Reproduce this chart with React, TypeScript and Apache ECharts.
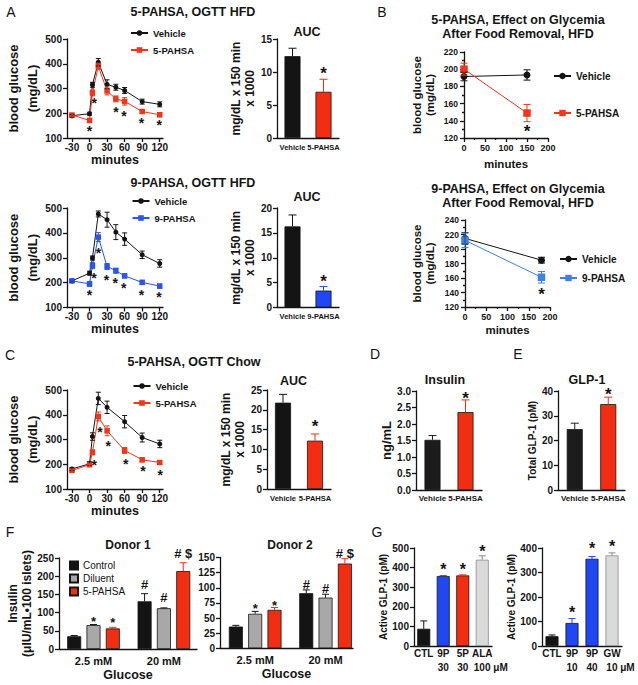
import React, { useEffect, useRef } from "react";
import * as echarts from "echarts";

const FONT = "'Liberation Sans', Arial, Helvetica, sans-serif";
const INK = "#141414";
const RED = "#f2351b";
const RED_BAR = "#f22d12";
const BLUE_LINE = "#2b55ee";
const BLUE_BAR = "#1f47f3";
const BLUE_B = "#3b82e6";
const GREY = "#a8a8a8";
const LIGHT = "#dadada";

// ---------- A (top): 5-PAHSA, OGTT HFD ----------
const minutesA = [-30, 0, 5, 15, 30, 45, 60, 90, 120];
const minuteTicks = [-30, 0, 30, 60, 90, 120];
const a1Vehicle = [190, 198, 315, 406, 317, 305, 292, 247, 236];
const a1VehicleErr = [5, 6, 10, 15, 18, 12, 12, 10, 10];
const a1Pahsa = [193, 171, 282, 390, 290, 258, 248, 207, 194];
const a1PahsaErr = [5, 8, 12, 12, 16, 12, 15, 8, 8];
const a1StarX = [0, 8, 45, 59, 89, 119];
const a1StarY = [142, 254, 220, 202, 175, 166];
const aucCats = ["Vehicle", "5-PAHSA"];
const a1Auc = [12.4, 7.0];
const a1AucErr = [1.2, 1.9];
const a1AucStarY = [10.3];

// ---------- A (bottom): 9-PAHSA, OGTT HFD ----------
const a2Vehicle = [207, 238, 299, 476, 453, 403, 375, 312, 277];
const a2VehicleErr = [5, 8, 8, 12, 30, 30, 25, 15, 15];
const a2Pahsa9 = [207, 195, 268, 383, 265, 248, 227, 201, 186];
const a2Pahsa9Err = [5, 10, 12, 18, 12, 10, 8, 8, 8];
const a2StarX = [0, 7.5, 15.5, 29, 44, 58.6, 88.7, 118.8];
const a2StarY = [162, 232, 332, 225, 211, 191, 162, 154];
const auc9Cats = ["Vehicle", "9-PAHSA"];
const a2Auc = [16.3, 3.4];
const a2AucErr = [2.3, 0.8];
const a2AucStarY = [6.1];

// ---------- B ----------
const b1Minutes = [0, 150];
const b1Vehicle = [191.5, 193.3];
const b1VehicleErr = [5, 6];
const b1Pahsa = [200, 149];
const b1PahsaErr = [7, 10];
const b1StarX = [150];
const b1StarY = [132];
const b2Minutes = [0, 180];
const b2Vehicle = [214.6, 184.6];
const b2VehicleErr = [8, 4];
const b2Pahsa9 = [212, 161];
const b2Pahsa9Err = [10, 8];
const b2StarX = [180];
const b2StarY = [142.5];

// ---------- C: 5-PAHSA, OGTT Chow ----------
const minutesC = [-30, 0, 5, 15, 30, 60, 90, 120];
const cVehicle = [181, 202, 312, 466, 430, 372, 308, 282];
const cVehicleErr = [5, 8, 15, 25, 25, 25, 18, 15];
const cPahsa = [175, 198, 248, 393, 335, 256, 218, 207];
const cPahsaErr = [4, 6, 10, 18, 20, 12, 8, 7];
const cStarX = [8, 17.7, 32, 62, 91.5, 121];
const cStarY = [208, 345, 285, 213, 184, 170];
const cAuc = [21.8, 12.2];
const cAucErr = [2.1, 1.7];
const cAucStarY = [16.7];

// ---------- D / E ----------
const insulin = [1.52, 2.36];
const insulinErr = [0.13, 0.37];
const insulinStarY = [2.9];
const glp1 = [24.6, 34.7];
const glp1Err = [2.4, 2.8];
const glp1StarY = [40];

// ---------- F ----------
const fDose = ["2.5 mM", "20 mM"];
const fGroups = ["Control", "Diluent", "5-PAHSA"];
const donor1Control = [35, 131];
const donor1ControlErr = [2, 21];
const donor1Diluent = [65.7, 112];
const donor1DiluentErr = [1.5, 1];
const donor1Pahsa = [56.6, 214];
const donor1PahsaErr = [3, 23];
const donor1MarkGroup = [1, 2, 0, 1, 2];
const donor1MarkDose = [0, 0, 1, 1, 1];
const donor1MarkText = ["*", "*", "#", "#", "# $"];
const donor1MarkY = [85, 80, 176, 141, 263];
const donor2Control = [35.9, 91];
const donor2ControlErr = [2, 5.5];
const donor2Diluent = [57, 83.8];
const donor2DiluentErr = [4, 5.5];
const donor2Pahsa = [63.5, 140];
const donor2PahsaErr = [4, 8];
const donor2MarkGroup = [1, 2, 0, 1, 2];
const donor2MarkDose = [0, 0, 1, 1, 1];
const donor2MarkText = ["*", "*", "#", "#", "# $"];
const donor2MarkY = [70, 75.5, 105, 99.5, 156];

// ---------- G ----------
const g1Cats = ["CTL", "9P\n30", "5P\n30", "ALA\n100 μM"];
const g1Values = [88, 357, 360, 440];
const g1Err = [40, 2, 3, 20];
const g1StarX = [1, 2, 3];
const g1StarY = [410, 410, 501];
const g2Cats = ["CTL", "9P\n10", "9P\n40", "GW\n10 μM"];
const g2Values = [40, 94, 356, 370];
const g2Err = [5, 18, 9, 10];
const g2StarX = [1, 2, 3];
const g2StarY = [150, 412, 423];

// ---------- helpers ----------
const axisLineStyle = { color: INK, width: 1.3 };

function txt(size: number, weight = "bold", extra: any = {}) {
  return { fontSize: size, fontWeight: weight, color: INK, fontFamily: FONT, ...extra };
}

function valueY(min: number, max: number, interval: number, labelSize: number, name: string, nameSize: number, nameGap: number, lineHeight: number, extra: any = {}) {
  return {
    type: "value", min, max, interval,
    axisLine: { show: true, onZero: false, lineStyle: axisLineStyle },
    axisTick: { show: true, length: 4, lineStyle: axisLineStyle },
    axisLabel: { ...txt(labelSize), margin: 5, ...(extra.axisLabel || {}) },
    splitLine: { show: false },
    name, nameLocation: "middle", nameRotate: 90, nameGap,
    nameTextStyle: txt(nameSize, "bold", { lineHeight }),
    ...(extra.minorTick ? { minorTick: extra.minorTick } : {}),
  };
}

function minutesX(min: number, max: number, nameGap: number) {
  return {
    type: "value", min, max,
    axisLine: { show: true, onZero: false, lineStyle: axisLineStyle },
    axisTick: { show: true, length: 4, lineStyle: axisLineStyle, customValues: minuteTicks },
    axisLabel: { ...txt(10), margin: 4, customValues: minuteTicks },
    splitLine: { show: false },
    name: "minutes", nameLocation: "middle", nameGap,
    nameTextStyle: txt(12.5),
  };
}

function minutesXB(nameGap: number) {
  return {
    type: "value", min: 0, max: 200, interval: 50,
    axisLine: { show: true, onZero: false, lineStyle: axisLineStyle },
    axisTick: { show: true, length: 4, lineStyle: axisLineStyle },
    minorTick: { show: true, splitNumber: 2, length: 2, lineStyle: axisLineStyle },
    axisLabel: { ...txt(9), margin: 5 },
    splitLine: { show: false },
    name: "minutes", nameLocation: "middle", nameGap,
    nameTextStyle: txt(11.5),
  };
}

function catX(data: string[], labelSize: number, margin: number, extraLabel: any = {}) {
  return {
    type: "category", data,
    axisLine: { show: true, onZero: false, lineStyle: axisLineStyle },
    axisTick: { show: false },
    axisLabel: { interval: 0, ...txt(labelSize), margin, ...extraLabel },
    splitLine: { show: false },
  };
}

function groupX(labels: string[], min: number, max: number) {
  const ticks = labels.map((_, i) => i);
  return {
    type: "value", min, max,
    axisLine: { show: true, onZero: false, lineStyle: axisLineStyle },
    axisTick: { show: false },
    axisLabel: { ...txt(11), margin: 6, customValues: ticks, formatter: (v: number) => labels[Math.round(v)] },
    splitLine: { show: false },
    name: "Glucose", nameLocation: "middle", nameGap: 19,
    nameTextStyle: txt(12.5),
  };
}

function addGrid(o: any, left: number, top: number, width: number, height: number, xAx: any, yAx: any) {
  const gi = o.grid.length;
  o.grid.push({ left, top, width, height });
  o.xAxis.push({ ...xAx, gridIndex: gi });
  o.yAxis.push({ ...yAx, gridIndex: gi });
  return gi;
}

function lineSeries(gi: number, name: string, xs: number[], ys: number[], color: string, symbol: string, size: number) {
  return {
    type: "line", name, xAxisIndex: gi, yAxisIndex: gi, silent: true, z: 3,
    data: xs.map((x, i) => [x, ys[i]]),
    symbol, symbolSize: size, showSymbol: true,
    lineStyle: { color, width: 1 }, itemStyle: { color },
  };
}

function errorSeries(gi: number, data: number[][], colors: string | string[], cap: number, both: boolean, offset = 0) {
  return {
    type: "custom", xAxisIndex: gi, yAxisIndex: gi, silent: true, z: 4,
    data, encode: { x: 0, y: [1, 2] },
    renderItem: (params: any, api: any) => {
      const x = api.value(0);
      const a = api.coord([x, api.value(1)]);
      const b = api.coord([x, api.value(2)]);
      const cx = a[0] + offset;
      const color = Array.isArray(colors) ? colors[params.dataIndex] : colors;
      const st = { stroke: color, lineWidth: 1 };
      const children: any[] = [
        { type: "line", shape: { x1: cx, y1: a[1], x2: cx, y2: b[1] }, style: st },
        { type: "line", shape: { x1: cx - cap / 2, y1: b[1], x2: cx + cap / 2, y2: b[1] }, style: st },
      ];
      if (both) children.push({ type: "line", shape: { x1: cx - cap / 2, y1: a[1], x2: cx + cap / 2, y2: a[1] }, style: st });
      return { type: "group", children };
    },
  };
}

function errData(xs: number[], ys: number[], err: number[]) {
  return xs.map((x, i) => [x, ys[i] - err[i], ys[i] + err[i]]);
}
function barErrData(ys: number[], err: number[]) {
  return ys.map((y, i) => [i, y, y + err[i]]);
}

function markSeries(gi: number, xs: number[], ys: number[], texts: string[], size: number, offsets: number[] | number = 0) {
  return {
    type: "custom", xAxisIndex: gi, yAxisIndex: gi, silent: true, z: 5,
    data: xs.map((x, i) => [x, ys[i]]), encode: { x: 0, y: 1 },
    renderItem: (params: any, api: any) => {
      const p = api.coord([api.value(0), api.value(1)]);
      const t = texts[params.dataIndex];
      const off = Array.isArray(offsets) ? offsets[params.dataIndex] : offsets;
      const shift = /^\*+$/.test(t) ? size * 0.23 : 0;
      return {
        type: "text", x: p[0] + off, y: p[1] + shift,
        style: { text: t, fill: INK, font: `bold ${size}px ${FONT}`, align: "center", verticalAlign: "middle" },
      };
    },
  };
}

function barSeries(gi: number, values: number[], colors: string[], borders: string[], width: number) {
  return {
    type: "bar", xAxisIndex: gi, yAxisIndex: gi, silent: true, barWidth: width, z: 2,
    data: values.map((v, i) => ({ value: v, itemStyle: { color: colors[i], borderColor: borders[i], borderWidth: 0.8 } })),
  };
}

function lineLegend(names: string[], left: number, top: number, gap: number, itemHeight: number, size: number) {
  return {
    data: names, left, top, orient: "vertical", itemWidth: 17, itemHeight, itemGap: gap, padding: 0,
    selectedMode: false, formatter: (n: string) => n.split("|")[1], textStyle: txt(size),
  };
}

function title(text: string, cx: number, cy: number, size: number, lh = size) {
  const lines = text.split("\n").length;
  return {
    text, left: cx, top: cy - (lines * lh) / 2, textAlign: "center", padding: 0,
    textStyle: txt(size, "bold", { lineHeight: lh }),
  };
}

function letter(t: string, x: number, y: number) {
  return { type: "text", x, y, style: { text: t, fill: INK, font: `14px ${FONT}`, align: "center", verticalAlign: "middle" } };
}

function glucoseY(nameGap: number) {
  return valueY(100, 500, 100, 10, "blood glucose\n(mg/dL)", 13, nameGap, 18.6);
}

function buildOption() {
  const o: any = { grid: [], xAxis: [], yAxis: [], series: [], legend: [], title: [], graphic: [] };
  const S = (...s: any[]) => o.series.push(...s);

  // ---- A top ----
  let g = addGrid(o, 67, 39, 96, 99, minutesX(-38.5, 125.6, 15), glucoseY(20.5));
  S(
    errorSeries(g, errData(minutesA, a1Vehicle, a1VehicleErr), INK, 5, true),
    errorSeries(g, errData(minutesA, a1Pahsa, a1PahsaErr), RED, 5, true),
    lineSeries(g, "a1|Vehicle", minutesA, a1Vehicle, INK, "circle", 5),
    lineSeries(g, "a1|5-PAHSA", minutesA, a1Pahsa, RED, "rect", 5.5),
    markSeries(g, a1StarX, a1StarY, a1StarX.map(() => "*"), 14),
  );
  o.legend.push(lineLegend(["a1|Vehicle", "a1|5-PAHSA"], 130, 28, 7, 7, 9.5));

  g = addGrid(o, 277, 39, 62, 99, catX(aucCats, 7.5, 5), valueY(0, 15, 5, 10, "mg/dL x 150 min\nx 1000", 12, 20, 14));
  S(
    barSeries(g, a1Auc, [INK, RED_BAR], [INK, INK], 16),
    errorSeries(g, barErrData(a1Auc, a1AucErr), [INK, RED_BAR], 8, false),
    markSeries(g, [1], a1AucStarY, ["*"], 17),
  );

  // ---- A bottom ----
  g = addGrid(o, 67, 208, 96, 99.5, minutesX(-38.5, 125.6, 14), glucoseY(20.5));
  S(
    errorSeries(g, errData(minutesA, a2Vehicle, a2VehicleErr), INK, 5, true),
    errorSeries(g, errData(minutesA, a2Pahsa9, a2Pahsa9Err), BLUE_LINE, 5, true),
    lineSeries(g, "a2|Vehicle", minutesA, a2Vehicle, INK, "circle", 5),
    lineSeries(g, "a2|9-PAHSA", minutesA, a2Pahsa9, BLUE_LINE, "rect", 5.5),
    markSeries(g, a2StarX, a2StarY, a2StarX.map(() => "*"), 14),
  );
  o.legend.push(lineLegend(["a2|Vehicle", "a2|9-PAHSA"], 131.5, 196, 7, 7, 9.5));

  g = addGrid(o, 277, 208, 62, 99.5, catX(auc9Cats, 7.5, 5), valueY(0, 20, 5, 10, "mg/dL x 150 min\nx 1000", 12, 20, 14));
  S(
    barSeries(g, a2Auc, [INK, BLUE_BAR], [INK, INK], 16),
    errorSeries(g, barErrData(a2Auc, a2AucErr), [INK, BLUE_BAR], 8, false),
    markSeries(g, [1], a2AucStarY, ["*"], 17),
  );

  // ---- B top ----
  g = addGrid(o, 464, 52, 84, 86, minutesXB(20), valueY(120, 220, 20, 8.5, "blood glucose\n(mg/dL)", 11.5, 28, 13, {
    minorTick: { show: true, splitNumber: 2, length: 2, lineStyle: axisLineStyle }, axisLabel: { margin: 6 },
  }));
  S(
    errorSeries(g, errData(b1Minutes, b1Vehicle, b1VehicleErr), INK, 7, true),
    errorSeries(g, errData(b1Minutes, b1Pahsa, b1PahsaErr), RED, 7, true),
    lineSeries(g, "b1|Vehicle", b1Minutes, b1Vehicle, INK, "circle", 7),
    lineSeries(g, "b1|5-PAHSA", b1Minutes, b1Pahsa, RED, "rect", 7.5),
    markSeries(g, b1StarX, b1StarY, ["*"], 17),
  );
  o.legend.push(lineLegend(["b1|Vehicle", "b1|5-PAHSA"], 553, 71, 27, 8, 10));

  // ---- B bottom ----
  g = addGrid(o, 465, 220, 85, 87, minutesXB(17), valueY(120, 240, 20, 8.5, "blood glucose\n(mg/dL)", 11.5, 28.5, 13, {
    minorTick: { show: true, splitNumber: 2, length: 2, lineStyle: axisLineStyle }, axisLabel: { margin: 6 },
  }));
  S(
    errorSeries(g, errData(b2Minutes, b2Vehicle, b2VehicleErr), INK, 7, true),
    errorSeries(g, errData(b2Minutes, b2Pahsa9, b2Pahsa9Err), BLUE_B, 7, true),
    lineSeries(g, "b2|Vehicle", b2Minutes, b2Vehicle, INK, "circle", 7),
    lineSeries(g, "b2|9-PAHSA", b2Minutes, b2Pahsa9, BLUE_B, "rect", 7.5),
    markSeries(g, b2StarX, b2StarY, ["*"], 17),
  );
  o.legend.push(lineLegend(["b2|Vehicle", "b2|9-PAHSA"], 559, 254, 9, 8, 10));

  // ---- C ----
  g = addGrid(o, 67, 390, 96, 99, minutesX(-38.5, 125.6, 15), glucoseY(20.5));
  S(
    errorSeries(g, errData(minutesC, cVehicle, cVehicleErr), INK, 5, true),
    errorSeries(g, errData(minutesC, cPahsa, cPahsaErr), RED, 5, true),
    lineSeries(g, "c|Vehicle", minutesC, cVehicle, INK, "circle", 5),
    lineSeries(g, "c|5-PAHSA", minutesC, cPahsa, RED, "rect", 5.5),
    markSeries(g, cStarX, cStarY, cStarX.map(() => "*"), 14),
  );
  o.legend.push(lineLegend(["c|Vehicle", "c|5-PAHSA"], 132.5, 381, 7, 7, 9.5));

  g = addGrid(o, 267, 390, 64, 99, catX(aucCats, 7.5, 5), valueY(0, 25, 5, 10, "mg/dL x 150 min\nx 1000", 12, 17, 14));
  S(
    barSeries(g, cAuc, [INK, RED_BAR], [INK, INK], 16),
    errorSeries(g, barErrData(cAuc, cAucErr), [INK, RED_BAR], 8, false),
    markSeries(g, [1], cAucStarY, ["*"], 17),
  );

  // ---- D ----
  g = addGrid(o, 416, 391, 66, 99, catX(aucCats, 8, 4), valueY(0, 3, 0.5, 10, "ng/mL", 13, 22.5, 13, {
    axisLabel: { formatter: (v: number) => v.toFixed(1) },
  }));
  S(
    barSeries(g, insulin, ["#1c1c1c", RED_BAR], [INK, INK], 16),
    errorSeries(g, barErrData(insulin, insulinErr), ["#1c1c1c", RED_BAR], 8, false),
    markSeries(g, [1], insulinStarY, ["*"], 17),
  );

  // ---- E ----
  g = addGrid(o, 558, 391, 67, 99, catX(aucCats, 8, 4), valueY(0, 40, 10, 10, "Total GLP-1 (pM)", 10, 20, 10));
  S(
    barSeries(g, glp1, ["#1c1c1c", RED_BAR], [INK, INK], 16),
    errorSeries(g, barErrData(glp1, glp1Err), ["#1c1c1c", RED_BAR], 8, false),
    markSeries(g, [1], glp1StarY, ["*"], 17),
  );

  // ---- F ----
  const fColors = [INK, GREY, RED_BAR];
  const bw = 14;
  const step = bw * 1.38;
  const fOffsets = [-step, 0, step];
  const addDonor = (key: string, gIdx: number, vals: number[][], errs: number[][], mg: number[], md: number[], mt: string[], my: number[]) => {
    vals.forEach((v, k) => {
      S({
        type: "bar", name: `${key}|${fGroups[k]}`, xAxisIndex: gIdx, yAxisIndex: gIdx, silent: true, z: 2,
        barWidth: bw, barGap: "38%",
        data: v.map((y, i) => [i, y]),
        itemStyle: { color: fColors[k], borderColor: INK, borderWidth: 0.8 },
      });
    });
    vals.forEach((v, k) => {
      S(errorSeries(gIdx, v.map((y, i) => [i, y, y + errs[k][i]]), fColors[k] === GREY ? INK : fColors[k], 7, false, fOffsets[k]));
    });
    S(markSeries(gIdx, md, my, mt, 13, mg.map((k) => fOffsets[k])));
  };

  g = addGrid(o, 59, 558, 138, 91, groupX(fDose, -0.49, 1.47),
    valueY(0, 250, 50, 10, "Insulin\n(μIU/mL•100 islets)", 12, 20, 13.5));
  addDonor("f1", g, [donor1Control, donor1Diluent, donor1Pahsa], [donor1ControlErr, donor1DiluentErr, donor1PahsaErr],
    donor1MarkGroup, donor1MarkDose, donor1MarkText, donor1MarkY);
  o.legend.push({
    data: fGroups.map((n) => `f1|${n}`), left: 69, top: 560.5, orient: "vertical", icon: "rect",
    itemWidth: 8, itemHeight: 8, itemGap: 3, padding: 0, selectedMode: false,
    formatter: (n: string) => n.split("|")[1], textStyle: txt(10, "normal"),
  });

  g = addGrid(o, 220, 557.5, 133, 90.8, groupX(fDose, -0.5, 1.39),
    valueY(0, 150, 25, 10, "", 12, 20, 13));
  addDonor("f2", g, [donor2Control, donor2Diluent, donor2Pahsa], [donor2ControlErr, donor2DiluentErr, donor2PahsaErr],
    donor2MarkGroup, donor2MarkDose, donor2MarkText, donor2MarkY);

  // ---- G ----
  const gLabel = {
    lineHeight: 13.5,
    formatter: (v: string) => (v.indexOf("μM") >= 0 ? v.replace(/\n(.*)$/, "\n{u|$1}") : v),
    rich: { u: { ...txt(10), lineHeight: 13.5, padding: [0, 0, 0, 17] } },
  };
  g = addGrid(o, 414, 548, 78, 98, catX(g1Cats, 10, 1, gLabel), valueY(0, 500, 100, 10, "Active GLP-1 (pM)", 10, 24, 10));
  S(
    barSeries(g, g1Values, [INK, BLUE_BAR, RED_BAR, LIGHT], [INK, INK, INK, "#8a8a8a"], 13),
    errorSeries(g, barErrData(g1Values, g1Err), [INK, BLUE_BAR, RED_BAR, "#8a8a8a"], 7, false),
    markSeries(g, g1StarX, g1StarY, ["*", "*", "*"], 16),
  );
  g = addGrid(o, 542, 548, 80, 98, catX(g2Cats, 10, 1, gLabel), valueY(0, 400, 100, 10, "Active GLP-1 (pM)", 10, 22, 10));
  S(
    barSeries(g, g2Values, [INK, BLUE_BAR, BLUE_BAR, LIGHT], [INK, INK, INK, "#8a8a8a"], 13),
    errorSeries(g, barErrData(g2Values, g2Err), [INK, BLUE_BAR, BLUE_BAR, "#8a8a8a"], 7, false),
    markSeries(g, g2StarX, g2StarY, ["*", "*", "*"], 16),
  );

  // ---- titles ----
  o.title = [
    title("5-PAHSA, OGTT HFD", 193, 12, 12.5),
    title("AUC", 307, 31.7, 12.5),
    title("9-PAHSA, OGTT HFD", 193, 183, 12.5),
    title("AUC", 307, 196.7, 12.5),
    title("5-PAHSA, Effect on Glycemia\nAfter Food Removal, HFD", 518, 27.2, 12.5, 14.3),
    title("9-PAHSA, Effect on Glycemia\nAfter Food Removal, HFD", 518, 196.2, 12.5, 14.3),
    title("5-PAHSA, OGTT Chow", 194, 361.7, 12.5),
    title("AUC", 293.5, 380.7, 12.5),
    title("Insulin", 445, 380, 12.5),
    title("GLP-1", 587, 380, 12.5),
    title("Donor 1", 128, 545, 12),
    title("Donor 2", 290, 545, 12),
  ];
  o.graphic = [
    letter("A", 11, 12),
    letter("B", 382, 12),
    letter("C", 10, 355),
    letter("D", 375, 354),
    letter("E", 518, 354),
    letter("F", 10, 532),
    letter("G", 377, 532),
  ];

  return { animation: false, backgroundColor: "#ffffff", textStyle: { fontFamily: FONT }, ...o };
}

export default function App() {
  const ref = useRef<HTMLDivElement>(null);
  useEffect(() => {
    if (!ref.current) return;
    const chart = echarts.init(ref.current, undefined, { renderer: "svg" });
    chart.setOption(buildOption());
    return () => chart.dispose();
  }, []);
  return (
    <div
      ref={ref}
      style={{ position: "fixed", left: 0, top: 0, width: 638, height: 685, background: "#ffffff" }}
    />
  );
}
